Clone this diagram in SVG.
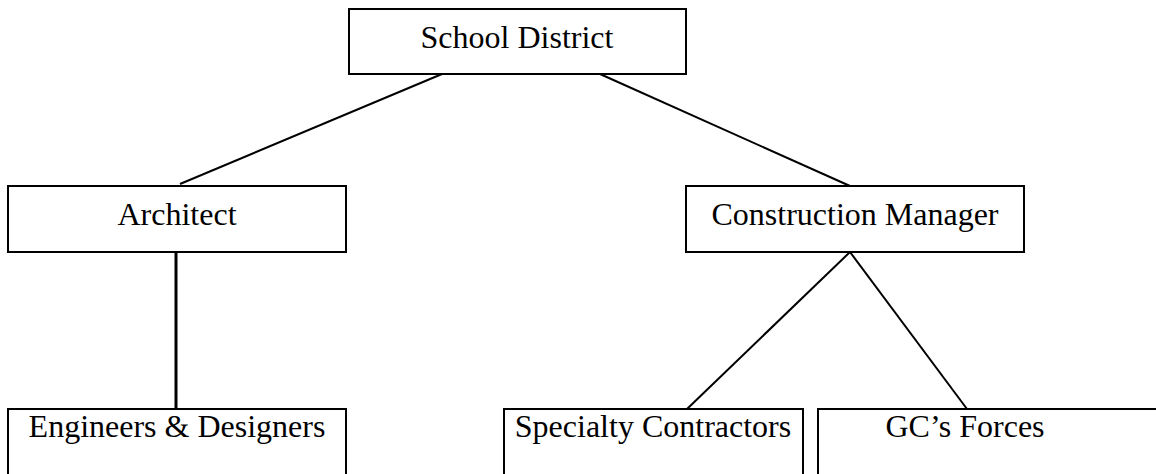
<svg xmlns="http://www.w3.org/2000/svg" width="1156" height="474" viewBox="0 0 1156 474">
<style>
rect{fill:#fff;stroke:#000;stroke-width:2}
text{font-family:"Liberation Serif","Times New Roman",serif;font-size:32px;fill:#000;text-anchor:middle}
.c line{stroke:#000;stroke-width:2}
</style>
<rect x="0" y="0" width="1156" height="474" style="stroke:none"/>
<g class="c" id="connectors">
<line x1="442" y1="74" x2="180" y2="184"/>
<line x1="600" y1="74" x2="850" y2="186"/>
<line x1="176" y1="252" x2="176" y2="409" style="stroke-width:3"/>
<line x1="850" y1="252" x2="687" y2="409"/>
<line x1="850" y1="252" x2="967" y2="409"/>
</g>
<g id="school-district"><rect x="349" y="9" width="337" height="65"/><text x="517" y="48">School District</text></g>
<g id="architect"><rect x="8" y="186" width="338" height="66"/><text x="177" y="225">Architect</text></g>
<g id="construction-manager"><rect x="686" y="186" width="338" height="66"/><text x="855" y="225">Construction Manager</text></g>
<g id="engineers"><rect x="8" y="409" width="338" height="80"/><text x="177" y="437">Engineers &amp; Designers</text></g>
<g id="specialty"><rect x="504" y="409" width="299" height="80"/><text x="653" y="437">Specialty Contractors</text></g>
<g id="gc-forces"><rect x="818" y="409" width="360" height="80"/><text x="965" y="437">GC’s Forces</text></g>
</svg>
